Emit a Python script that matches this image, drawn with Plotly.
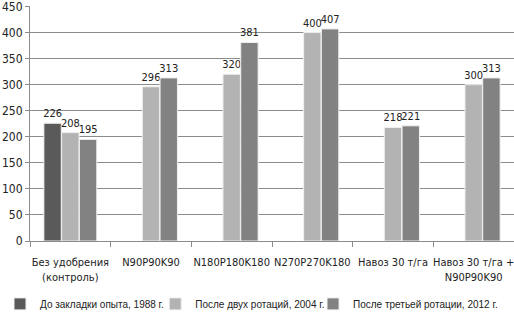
import plotly.graph_objects as go

categories = ["Без удобрения<br>(контроль)", "N90P90K90", "N180P180K180",
              "N270P270K180", "Навоз 30 т/га", "Навоз 30 т/га +<br>N90P90K90"]
series_names = ["До закладки опыта, 1988 г.", "После двух ротаций, 2004 г.",
                "После третьей ротации, 2012 г."]
s1988 = [226, None, None, None, None, None]
s2004 = [208, 296, 320, 400, 218, 300]
s2012 = [195, 313, 381, 407, 221, 313]
y_ticks = [0, 50, 100, 150, 200, 250, 300, 350, 400, 450]
colors = ["#5a5a5a", "#b3b3b3", "#828282"]

FONT = "DejaVu Sans Condensed, Liberation Sans, sans-serif"
LEG_FONT = "Liberation Sans, sans-serif"

legend_ids = ["legend", "legend2", "legend3"]
legend_x = [0.0, 0.302, 0.609]

fig = go.Figure()
for name, vals, col, lid in zip(series_names, [s1988, s2004, s2012], colors, legend_ids):
    fig.add_trace(go.Bar(
        x=categories, y=vals, name=name, legend=lid,
        marker=dict(color=col, line=dict(color="#f0f0f0", width=1)),
        text=[("" if v is None else str(v)) for v in vals],
        textposition="outside", cliponaxis=False, constraintext="none",
        textfont=dict(size=11, color="#222", family=FONT),
    ))

leg_common = dict(orientation="h", xref="container", yref="container", xanchor="left",
                  yanchor="top", y=0.09, font=dict(size=10, family=LEG_FONT, color="#222"),
                  itemwidth=30, bgcolor="rgba(0,0,0,0)", borderwidth=0)

fig.update_layout(
    width=514, height=318,
    margin=dict(l=30, r=0, t=6, b=77, autoexpand=False),
    barmode="group", bargap=0.34, bargroupgap=0.02,
    plot_bgcolor="white", paper_bgcolor="white",
    font=dict(family=FONT, size=12, color="#222"),
    legend=dict(x=legend_x[0], **leg_common),
    legend2=dict(x=legend_x[1], **leg_common),
    legend3=dict(x=legend_x[2], **leg_common),
    showlegend=True,
)
fig.update_yaxes(range=[0, 451], tickvals=y_ticks, showgrid=True, gridcolor="#8c8c8c", gridwidth=1,
                 showline=True, linecolor="#8c8c8c", ticks="outside", ticklen=4,
                 tickcolor="#8c8c8c", zeroline=False, tickfont=dict(size=12), automargin=False,
                 ticklabeloverflow="allow")
fig.update_xaxes(showline=True, linecolor="#8c8c8c", ticks="outside", tickson="boundaries",
                 ticklen=5, tickcolor="#8c8c8c", tickfont=dict(size=11), tickangle=0,
                 automargin=False, ticklabelstandoff=11)

fig.write_html("out.html")
